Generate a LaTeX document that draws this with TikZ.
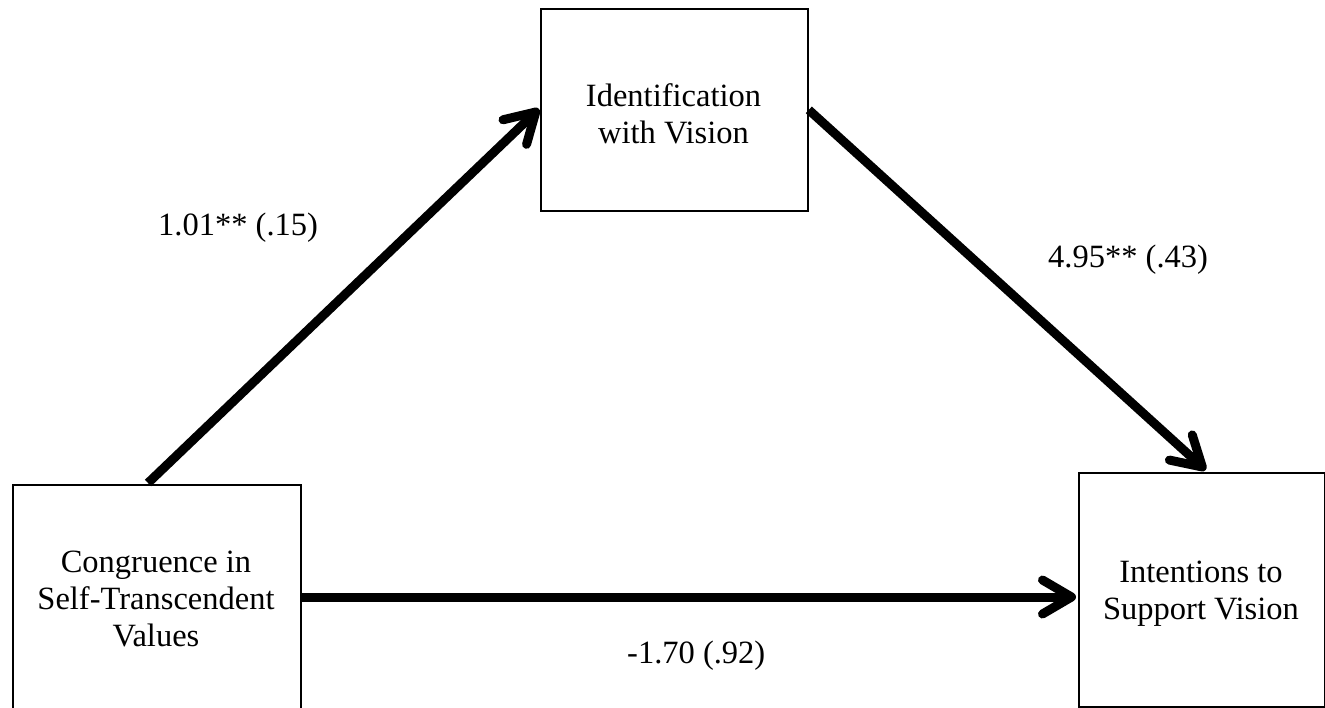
\documentclass[tikz,border=0pt]{standalone}
\usepackage{fontspec}
\setmainfont{Liberation Serif}
\usetikzlibrary{arrows.meta,calc}
\begin{document}
\begin{tikzpicture}[x=1pt,y=-1pt,
  box/.style={draw, line width=1.8pt, inner sep=0pt, anchor=north west},
  boxtext/.style={font=\fontsize{32.5}{37}\selectfont, align=center, inner sep=0pt},
  coef/.style={font=\fontsize{32.5}{37}\selectfont, anchor=base west, inner sep=0pt},
  path arrow/.style={line width=9pt,
    -{Straight Barb[length=29pt, width=34pt, round]}}]
  \useasboundingbox (0,0) rectangle (1325,707);
  \clip (0,0) rectangle (1325,707);

  % the three variables
  \node[box, minimum width=267pt, minimum height=202pt] (ident) at (540,8) {};
  \node[box, minimum width=288pt, minimum height=270pt] (congr) at (12,484) {};
  \node[box, minimum width=245.5pt, minimum height=234pt] (intent) at (1078,472) {};

  \node[boxtext] (identtext) at (673.5,118) {\strut Identification\\with Vision\strut};
  \node[boxtext] (congrtext) at (156,602) {\strut Congruence in\\Self-Transcendent\\Values\strut};
  \node[boxtext] (intenttext) at (1201,594) {\strut Intentions to\\Support Vision\strut};

  % paths
  \draw[path arrow] ($(congr.north west)+(136,-1)$) -- ($(ident.west)+(-1,-1)$);
  \draw[path arrow] (ident.east) -- ($(intent.north)+(4,-2)$);
  \draw[path arrow] ($(congr.north east)+(0,113)$) -- ($(intent.north west)+(-2,125)$);

  % path coefficients (standard errors)
  \node[coef] (acoef) at (158,235) {1.01** (.15)};
  \node[coef] (bcoef) at (1048,267) {4.95** (.43)};
  \node[coef] (ccoef) at (627,663) {-1.70 (.92)};
\end{tikzpicture}
\end{document}
